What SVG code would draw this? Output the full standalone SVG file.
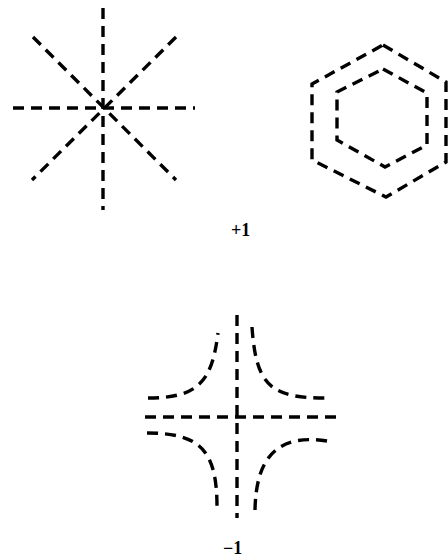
<svg xmlns="http://www.w3.org/2000/svg" width="448" height="559" viewBox="0 0 448 559">
<style>
.d{fill:none;stroke:#000;stroke-width:3.4;stroke-dasharray:11 7}
.t{font-family:"Liberation Serif",serif;font-size:18px;font-weight:bold;fill:#000}
</style>
<rect width="448" height="559" fill="#fff"/>
<g id="star">
<line class="d" x1="103" y1="8" x2="103" y2="210"/>
<line class="d" x1="13" y1="108" x2="195" y2="108"/>
<line class="d" x1="33" y1="37" x2="176" y2="180"/>
<line class="d" x1="176" y1="37" x2="32" y2="180"/>
</g>
<g id="hexagons">
<polygon class="d" points="383,45 446,82 446,162 386,197 312,160 312,84"/>
<polygon class="d" points="383,69 427,93 427,145 385,167 337,140 337,92"/>
</g>
<g id="cross">
<line class="d" x1="237" y1="315" x2="237" y2="518"/>
<line class="d" x1="145" y1="417" x2="337" y2="417"/>
<path class="d" d="M148,398 C200,398 212,380 218,333"/>
<path class="d" d="M252,327 C256,385 270,398 325,398"/>
<path class="d" d="M147,433 C200,433 217,450 217,507"/>
<path class="d" d="M327,441 C275,433 256,460 255,510"/>
</g>
<text class="t" x="231" y="236">+1</text>
<text class="t" x="223" y="554">−1</text>
</svg>
